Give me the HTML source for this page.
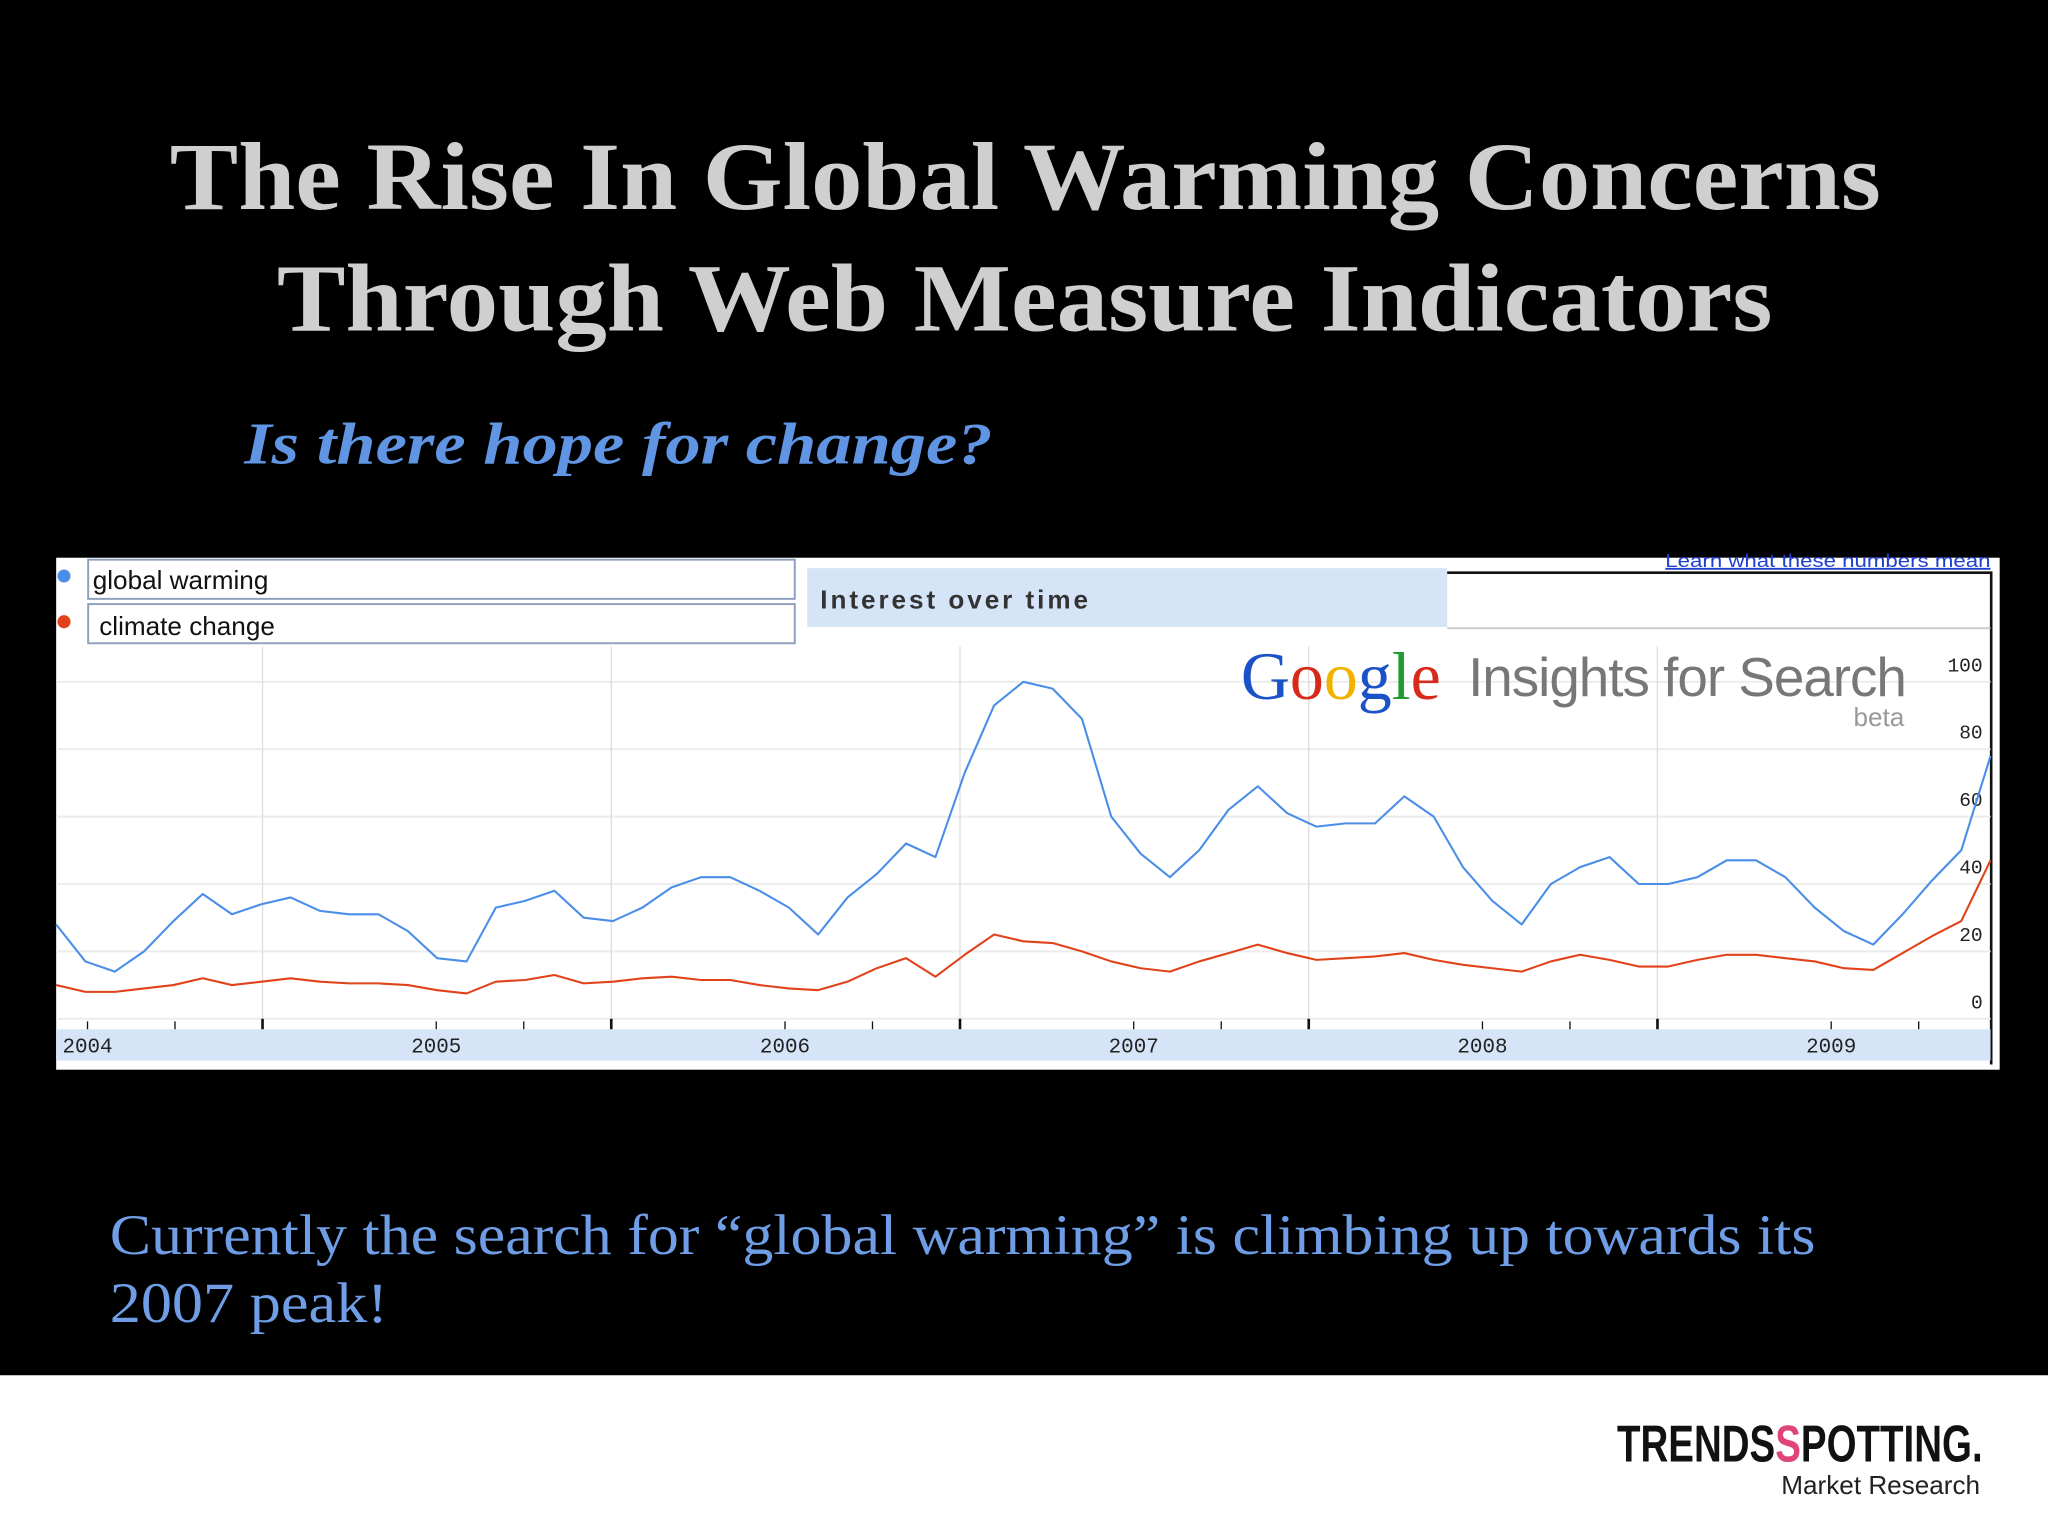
<!DOCTYPE html>
<html><head><meta charset="utf-8"><style>
html,body{margin:0;padding:0;background:#fff;}
svg{display:block;}
</style></head><body>
<svg width="2048" height="1536" viewBox="0 0 1568 1176" xmlns="http://www.w3.org/2000/svg">
<rect x="0" y="0" width="1568" height="1053" fill="#000"/>
<rect x="0" y="1053" width="1568" height="123" fill="#fff"/>
<text x="130" y="160" font-family="Liberation Serif, serif" font-weight="bold" font-size="74" fill="#cfcfcf" textLength="1310" lengthAdjust="spacingAndGlyphs">The Rise In Global Warming Concerns</text>
<text x="212" y="253" font-family="Liberation Serif, serif" font-weight="bold" font-size="74" fill="#cfcfcf" textLength="1145" lengthAdjust="spacingAndGlyphs">Through Web Measure Indicators</text>
<text x="187" y="355" font-family="Liberation Serif, serif" font-weight="bold" font-style="italic" font-size="45" fill="#5f95e3" textLength="573" lengthAdjust="spacingAndGlyphs">Is there hope for change?</text>

<g>
<rect x="43" y="427" width="1488" height="392" fill="#fff"/>
<circle cx="49" cy="441" r="5" fill="#4a8ee8"/>
<rect x="67.5" y="428.5" width="541" height="30" fill="#fff" stroke="#8fa0bd" stroke-width="1.5"/>
<text x="71" y="451" font-family="Liberation Sans, sans-serif" font-size="20" fill="#111">global warming</text>
<circle cx="49" cy="476" r="5" fill="#e0421a"/>
<rect x="67.5" y="462.5" width="541" height="30" fill="#fff" stroke="#8fa0bd" stroke-width="1.5"/>
<text x="76" y="486" font-family="Liberation Sans, sans-serif" font-size="20" fill="#111">climate change</text>
<rect x="618" y="435" width="490" height="45" fill="#d6e4f8"/>
<text x="628" y="466" font-family="Liberation Sans, sans-serif" font-weight="bold" font-size="20" fill="#333" textLength="205">Interest over time</text>
<text x="1275" y="434" font-family="Liberation Sans, sans-serif" font-size="14" fill="#1f3fcf" textLength="249" lengthAdjust="spacingAndGlyphs">Learn what these numbers mean</text>
<line x1="1275" y1="435.5" x2="1524" y2="435.5" stroke="#1f3fcf" stroke-width="1.5"/>
<path d="M1108 438.5 H1524.5 V815" fill="none" stroke="#111" stroke-width="2"/>
<line x1="1108" y1="481" x2="1524" y2="481" stroke="#ccc" stroke-width="1.5"/>
<g id="grid"></g>
<text x="950" y="535" font-family="Liberation Serif, serif" font-size="52"><tspan fill="#1a53c8">G</tspan><tspan fill="#d72a1a">o</tspan><tspan fill="#f0b400">o</tspan><tspan fill="#1a53c8">g</tspan><tspan fill="#1e9a2e">l</tspan><tspan fill="#d72a1a">e</tspan></text>
<text x="1124" y="533" font-family="Liberation Sans, sans-serif" font-size="42" fill="#777" textLength="336">Insights for Search</text>
<text x="1458" y="556" text-anchor="end" font-family="Liberation Sans, sans-serif" font-size="20" fill="#999">beta</text>
<rect x="43" y="788" width="1481" height="24" fill="#d6e4f8"/>
<g id="axes"></g>
<g id="series"></g>
</g>

<text x="84" y="960" font-family="Liberation Serif, serif" font-size="44" fill="#6f9ee6" textLength="1306" lengthAdjust="spacingAndGlyphs">Currently the search for “global warming” is climbing up towards its</text>
<text x="84" y="1012" font-family="Liberation Serif, serif" font-size="44" fill="#6f9ee6" textLength="213" lengthAdjust="spacingAndGlyphs">2007 peak!</text>
<text x="1238" y="1119" font-family="Liberation Sans Narrow, Liberation Sans, sans-serif" font-weight="bold" font-size="40" fill="#111" textLength="280" lengthAdjust="spacingAndGlyphs">TRENDS<tspan fill="#e0457a">S</tspan>POTTING.</text>
<text x="1516" y="1144" text-anchor="end" font-family="Liberation Sans, sans-serif" font-size="20" fill="#222">Market Research</text>
</svg>
<script>
const blueValues=[28,17,14,20,29,37,31,34,36,32,31,31,26,18,17,33,35,38,30,29,33,39,42,42,38,33,25,36,43,52,48,73,93,100,98,89,60,49,42,50,62,69,61,57,58,58,66,60,45,35,28,40,45,48,40,40,42,47,47,42,33,26,22,31,41,50,78];
const redValues=[10,8,8,9,10,12,10,11,12,11,10.5,10.5,10,8.5,7.5,11,11.5,13,10.5,11,12,12.5,11.5,11.5,10,9,8.5,11,15,18,12.5,19,25,23,22.5,20,17,15,14,17,19.5,22,19.5,17.5,18,18.5,19.5,17.5,16,15,14,17,19,17.5,15.5,15.5,17.5,19,19,18,17,15,14.5,19.5,24.5,29,47];
const yTicks=[0,20,40,60,80,100];
const yearLabels=["2004","2005","2006","2007","2008","2009"];
const NS="http://www.w3.org/2000/svg";
const x0=43,x1=1524,y0=780,yTop=522;
function xs(i){return x0+(x1-x0)*i/(blueValues.length-1);}
function ys(v){return y0-(y0-yTop)*v/100;}
function yearX(k){return 67+267*k;}
function mk(tag,attrs,parent){const e=document.createElementNS(NS,tag);for(const k in attrs)e.setAttribute(k,attrs[k]);parent.appendChild(e);return e;}
const grid=document.getElementById('grid'),axes=document.getElementById('axes'),series=document.getElementById('series');
yTicks.forEach(t=>{
 const l=mk('line',{x1:x0,x2:x1,y1:ys(t),y2:ys(t),stroke:'#ececec','stroke-width':1.5},grid);
 
 
 const tx=mk('text',{x:1518,y:ys(t)-8,'text-anchor':'end','font-family':'Liberation Mono, monospace','font-size':15,fill:'#222'},axes);
 tx.textContent=t;
 
 
});
for(let k=0;k<6;k++){
 const b=yearX(k)+134;
 if(b<x1){const v=mk('line',{x1:b,x2:b,y1:495,y2:780,stroke:'#ddd','stroke-width':1},grid);
 
 
 const mt=mk('line',{x1:b,x2:b,y1:780,y2:788,stroke:'#111','stroke-width':2},axes);
 
 }
 for(let q=0;q<2;q++){const m=yearX(k)+q*67;if(m<x1){const t=mk('line',{x1:m,x2:m,y1:782,y2:788,stroke:'#111','stroke-width':1},axes);
 
 }}
 const tl=mk('text',{x:yearX(k),y:806,'text-anchor':'middle','font-family':'Liberation Mono, monospace','font-size':16,fill:'#222'},axes);
 tl.textContent=yearLabels[k];
 
 
}
function line(vals,color,name){
 const d=vals.map((v,i)=>(i?'L':'M')+xs(i).toFixed(1)+' '+ys(v).toFixed(1)).join(' ');
 const p=mk('path',{d:d,fill:'none',stroke:color,'stroke-width':1.6,'stroke-linejoin':'round'},series);
 
 
}
line(redValues,'#e0421a','climate-change-line');
line(blueValues,'#4a8ee8','global-warming-line');
</script>
</body></html>
